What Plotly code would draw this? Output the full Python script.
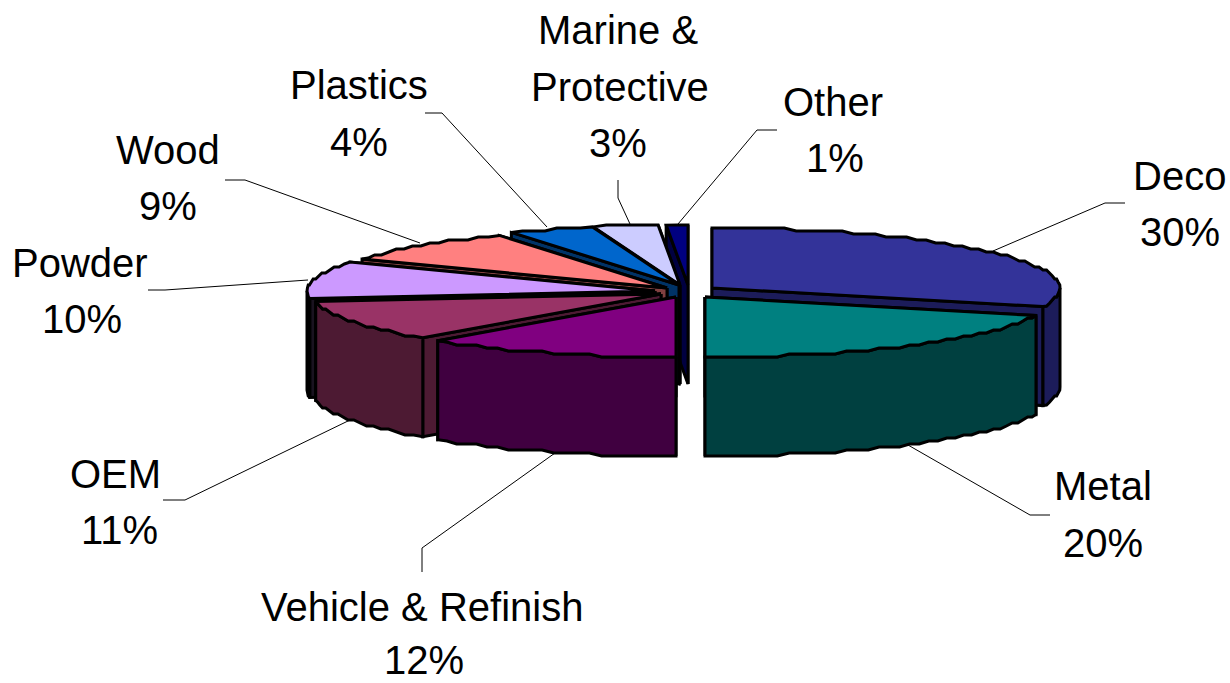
import math
import plotly.graph_objects as go

# ---- data ----
categories = ["Deco", "Metal", "Vehicle & Refinish", "OEM", "Powder", "Wood", "Plastics", "Marine & Protective", "Other"]
values = [30, 20, 12, 11, 10, 9, 4, 3, 1]
label_lines = [["Deco"], ["Metal"], ["Vehicle & Refinish"], ["OEM"], ["Powder"], ["Wood"], ["Plastics"], ["Marine &", "Protective"], ["Other"]]

# ---- style / geometry ----
top_colors = ["#333399", "#008080", "#800080", "#993366", "#CC99FF", "#FF8080", "#0066CC", "#CCCCFF", "#000080"]
wall_colors = ["#1C1C5A", "#004040", "#400040", "#4D1A33", "#1A1320", "#804040", "#003366", "#666680", "#000040"]
centres = [(712, 288), (705, 297), (676, 297), (661, 294), (655, 291), (667, 288), (679, 285), (680, 285), (688, 285)]
label_pos = [[(1179, 176), (1180, 232)], [(1103, 486), (1103, 543)], [(422, 607), (424, 660)], [(115, 474), (119, 530)],
             [(80, 263), (82, 319)], [(168, 150), (168, 206)], [(359, 85), (359, 142)],
             [(618, 30), (620, 87), (618, 143)], [(833, 102), (835, 158)]]
leaders = [[(993, 251), (1105, 203), (1125, 203)], [(908, 445), (1030, 515), (1050, 515)], [(555, 453), (422, 548), (422, 572)],
           [(350, 420), (185, 500), (163, 500)], [(308, 280), (165, 290), (148, 290)], [(420, 243), (245, 180), (225, 180)],
           [(547, 227), (442, 113), (425, 113)], [(630, 224), (618, 198), (618, 180)], [(678, 224), (757, 130), (777, 130)]]
RX, RY, DEPTH = 348, 60, 99
FONT = dict(family="Liberation Sans, Arial, sans-serif", size=40, color="black")


def pt(c, deg, drop=0, snap=True):
    t = math.radians(deg)
    y = c[1] - RY * math.cos(t)
    if snap:
        y = round(y / 3) * 3
    return c[0] + RX * math.sin(t), y + drop


def arc(c, a, b, drop=0):
    n = max(2, int(abs(b - a) / 2))
    pts = [pt(c, a + (b - a) * i / n, drop) for i in range(n + 1)]
    pts[0] = pt(c, a, drop, False)
    pts[-1] = pt(c, b, drop, False)
    return pts


fig = go.Figure()


def poly(pts, fill):
    fig.add_trace(go.Scatter(x=[p[0] for p in pts] + [pts[0][0]], y=[p[1] for p in pts] + [pts[0][1]],
                             mode="lines", fill="toself", fillcolor=fill,
                             line=dict(color="black", width=3), hoverinfo="skip", showlegend=False))


total = sum(values)
spans = []
acc = 0
for v in values:
    spans.append((acc * 360 / total, (acc + v) * 360 / total))
    acc += v

order = [8, 7, 6, 5, 4, 3, 0, 2, 1]
for i in order:
    a, b = spans[i]
    c = centres[i]
    wall = wall_colors[i]
    faces = [a, b] if (a + b) / 2 < 180 else [b, a]
    for ang in faces:
        e = pt(c, ang, 0, False)
        poly([c, e, (e[0], e[1] + DEPTH), (c[0], c[1] + DEPTH)], wall)
    fa, fb = max(a, 90), min(b, 270)
    if fb > fa:
        poly(arc(c, fa, fb) + arc(c, fa, fb, DEPTH)[::-1], wall)
    poly([c] + arc(c, a, b), top_colors[i])

for seg in leaders:
    fig.add_trace(go.Scatter(x=[p[0] for p in seg], y=[p[1] for p in seg], mode="lines",
                             line=dict(color="black", width=1), hoverinfo="skip", showlegend=False))

for lines, v, pos in zip(label_lines, values, label_pos):
    for text, (x, y) in zip(lines + [f"{v}%"], pos):
        fig.add_annotation(x=x, y=y, text=text, showarrow=False, font=FONT, xanchor="center", yanchor="middle")

fig.update_xaxes(range=[0, 1230], visible=False, fixedrange=True)
fig.update_yaxes(range=[683, 0], visible=False, fixedrange=True)
fig.update_layout(width=1230, height=683, margin=dict(l=0, r=0, t=0, b=0),
                  paper_bgcolor="white", plot_bgcolor="white", showlegend=False)
fig.write_html("out.html", config={"displayModeBar": False},
               post_script="document.body.style.margin='0';document.documentElement.style.overflow='hidden';")
